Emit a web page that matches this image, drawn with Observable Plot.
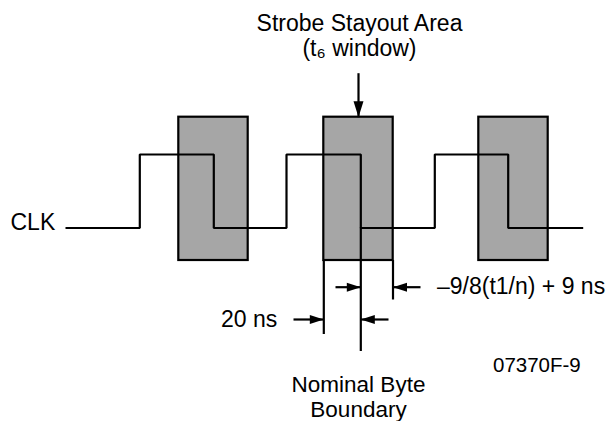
<!DOCTYPE html>
<html>
<head>
<meta charset="utf-8">
<script src="https://cdn.jsdelivr.net/npm/d3@7"></script>
<script src="https://cdn.jsdelivr.net/npm/@observablehq/plot@0.6"></script>
<style>
  html, body { margin: 0; padding: 0; background: #fff; }
  #chart svg { display: block; }
</style>
</head>
<body>
<div id="chart"></div>
<script>
// ---- Diagram data (time axis left→right, level axis top→bottom in diagram units) ----
const clockTimes  = [65, 139.3, 213.3, 286, 360.3, 434.3, 507.7, 582.7];
const clockLevels = ["low", "high", "low", "high", "low", "high", "low", "low"];
const levelValue  = {high: 154, low: 227.5};

const windowStart = [178.3, 323.3, 478.3];
const windowEnd   = [247.7, 392.7, 547.7];
const windowTop    = 116.7;
const windowBottom = 260;

// extension (dimension) lines below the middle window
const dimX      = [323.3, 360.3, 392.5];
const dimTop    = [260, 227.5, 260];
const dimBottom = [334, 351, 299.5];

// horizontal dimension arrows (tail → tip)
const arrowTail = [335, 420, 293, 388];
const arrowTip  = [360.3, 392.5, 323.3, 360.3];
const arrowRow  = [286.7, 286.7, 319, 319];

// pointer arrow to the stayout area
const pointerX = [358];
const pointerFrom = [72.7];
const pointerTo = [116.7];

// labels
const labelText   = ["Strobe Stayout Area\n(t\u2086 window)", "CLK", "\u20139/8(t1/n) + 9 ns", "20 ns", "07370F-9", "Nominal Byte\nBoundary"];
const labelX      = [359, 10, 436.5, 220.5, 492.5, 358];
const labelY      = [34.8, 222, 286.3, 318.8, 365.2, 396];
const labelAnchor = ["middle", "start", "start", "start", "start", "middle"];
const labelSize   = [23, 23, 23, 23, 20.5, 22.5];
const labelLeading = [1.117, 1, 1, 1, 1, 1.1];

// ---- derived tables ----
const clock = clockTimes.map((t, i) => ({t, v: levelValue[clockLevels[i]]}));
const windows = windowStart.map((s, i) => ({s, e: windowEnd[i], top: windowTop, bottom: windowBottom}));
const dims = dimX.map((x, i) => ({x, y1: dimTop[i], y2: dimBottom[i]}));
const arrows = arrowTail.map((a, i) => ({a, b: arrowTip[i], y: arrowRow[i], dir: arrowTip[i] > a ? "right" : "left"}));
const pointer = pointerX.map((x, i) => ({x, y1: pointerFrom[i], y2: pointerTo[i]}));
const labels = labelText.map((text, i) => ({text, x: labelX[i], y: labelY[i], anchor: labelAnchor[i], size: labelSize[i], lh: labelLeading[i]}));

// filled arrowhead symbols, tip at origin
function head(dir, L, Wd) {
  return {
    draw(ctx) {
      const h = Wd / 2;
      if (dir === "right") { ctx.moveTo(0, 0); ctx.lineTo(-L, -h); ctx.lineTo(-L, h); }
      else if (dir === "left") { ctx.moveTo(0, 0); ctx.lineTo(L, -h); ctx.lineTo(L, h); }
      else { ctx.moveTo(0, 0); ctx.lineTo(-h, -L); ctx.lineTo(h, -L); }
      ctx.closePath();
    }
  };
}

const SW = 2.2;
const font = "Arial, 'Liberation Sans', Helvetica, sans-serif";

const textMarks = labels.map(d => Plot.text([d], {
  x: "x", y: "y", text: "text",
  textAnchor: d.anchor, fontSize: d.size, lineHeight: d.lh, fill: "#000",
  fontFamily: font
}));

const chart = Plot.plot({
  width: 606,
  height: 421,
  margin: 0,
  style: {background: "#fff", fontFamily: font},
  x: {domain: [0, 606], range: [0, 606], axis: null},
  y: {domain: [0, 421], range: [0, 421], axis: null},
  marks: [
    Plot.rect(windows, {x1: "s", x2: "e", y1: "top", y2: "bottom", fill: "#a6a6a6", stroke: "#000", strokeWidth: SW}),
    Plot.line(clock, {x: "t", y: "v", curve: "step-after", stroke: "#000", strokeWidth: SW, strokeLinejoin: "miter", strokeLinecap: "butt"}),
    Plot.ruleX(dims, {x: "x", y1: "y1", y2: "y2", stroke: "#000", strokeWidth: SW}),
    Plot.link(arrows, {x1: "a", x2: "b", y1: "y", y2: "y", stroke: "#000", strokeWidth: SW}),
    Plot.dot(arrows.filter(d => d.dir === "right"), {x: "b", y: "y", symbol: head("right", 14, 9), fill: "#000", stroke: "none", r: 5}),
    Plot.dot(arrows.filter(d => d.dir === "left"), {x: "b", y: "y", symbol: head("left", 14, 9), fill: "#000", stroke: "none", r: 5}),
    Plot.link(pointer, {x1: "x", x2: "x", y1: "y1", y2: "y2", stroke: "#000", strokeWidth: SW}),
    Plot.dot(pointer, {x: "x", y: "y2", symbol: head("down", 16, 10), fill: "#000", stroke: "none", r: 5}),
    ...textMarks
  ]
});

document.getElementById("chart").appendChild(chart);
</script>
</body>
</html>
